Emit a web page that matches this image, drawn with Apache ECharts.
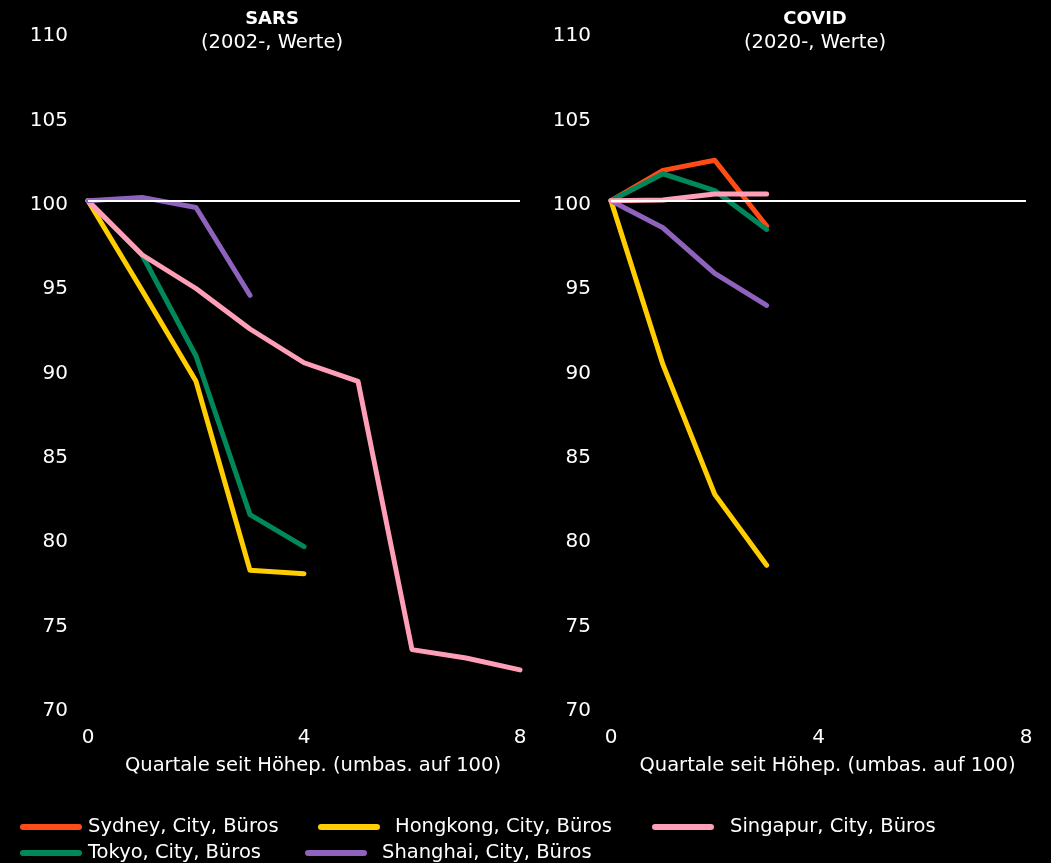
<!DOCTYPE html>
<html>
<head>
<meta charset="utf-8">
<script src="https://cdn.jsdelivr.net/npm/echarts@6/dist/echarts.min.js"></script>
<style>
  html, body { margin: 0; padding: 0; background: #000; }
  #chart { width: 1051px; height: 863px; }
</style>
</head>
<body>
<div id="chart"></div>
<script>
// Quarters since peak (x) and rebased office values (peak = 100)
const quarters = [0, 1, 2, 3, 4, 5, 6, 7, 8];

// SARS episode (2002-)
const sarsTokyo     = [100, 96.8, 90.8, 81.4, 79.5];
const sarsHongkong  = [100, 94.7, 89.3, 78.1, 77.9];
const sarsSingapur  = [100, 96.8, 94.8, 92.4, 90.4, 89.3, 73.4, 72.9, 72.2];
const sarsShanghai  = [100, 100.2, 99.6, 94.4];

// COVID episode (2020-)
const covidSydney   = [100, 101.8, 102.4, 98.5];
const covidTokyo    = [100, 101.6, 100.6, 98.3];
const covidHongkong = [100, 90.3, 82.6, 78.4];
const covidSingapur = [100, 100.05, 100.4, 100.4];
const covidShanghai = [100, 98.4, 95.7, 93.8];

const baseline = 100;
const yTicks = { min: 70, max: 110, step: 5 };
const xTicks = { min: 0, max: 8, step: 4 };

const NAMES = {
  sydney: 'Sydney, City, Büros',
  hongkong: 'Hongkong, City, Büros',
  singapur: 'Singapur, City, Büros',
  tokyo: 'Tokyo, City, Büros',
  shanghai: 'Shanghai, City, Büros'
};
const COLORS = {
  sydney: '#ff4c17',
  hongkong: '#ffcd00',
  singapur: '#ff9eb7',
  tokyo: '#00875a',
  shanghai: '#8e62bd'
};

const FONT = '"DejaVu Sans", "Noto Sans", sans-serif';
const TEXT_SIZE = 19.5;

function pairs(values) {
  return values.map((v, i) => [quarters[i], v]);
}

function lineSeries(key, values, gridIdx, withBaseline) {
  const s = {
    type: 'line',
    name: NAMES[key],
    xAxisIndex: gridIdx,
    yAxisIndex: gridIdx,
    data: pairs(values),
    showSymbol: false,
    symbol: 'none',
    silent: true,
    lineStyle: { color: COLORS[key], width: 5, cap: 'round', join: 'round' },
    itemStyle: { color: COLORS[key] }
  };
  if (withBaseline) {
    s.markLine = {
      silent: true,
      symbol: 'none',
      label: { show: false },
      lineStyle: { color: '#ffffff', width: 2, type: 'solid' },
      data: [{ yAxis: baseline }]
    };
  }
  return s;
}

function xAxis(gridIdx) {
  return {
    type: 'value',
    gridIndex: gridIdx,
    min: xTicks.min, max: xTicks.max, interval: xTicks.step,
    axisLine: { show: false },
    axisTick: { show: false },
    splitLine: { show: false },
    axisLabel: { color: '#ffffff', fontSize: 20, fontFamily: FONT, margin: 21 },
    name: 'Quartale seit Höhep. (umbas. auf 100)',
    nameLocation: 'middle',
    nameGap: 49,
    nameTextStyle: { color: '#ffffff', fontSize: TEXT_SIZE, fontFamily: FONT, padding: [0, 0, 0, 18] }
  };
}

function yAxis(gridIdx) {
  return {
    type: 'value',
    gridIndex: gridIdx,
    min: yTicks.min, max: yTicks.max, interval: yTicks.step,
    axisLine: { show: false },
    axisTick: { show: false },
    splitLine: { show: false },
    axisLabel: { color: '#ffffff', fontSize: 20, fontFamily: FONT, margin: 20, lineHeight: 26, verticalAlign: 'top', padding: [-9, 0, 0, 0] }
  };
}

const swatch = 'path://M3,0 H59 A3,3 0 0 1 59,6 H3 A3,3 0 0 1 3,0 Z';
function legendItem(key, left, top, textGap) {
  return {
    data: [NAMES[key]],
    left: left,
    top: top,
    orient: 'horizontal',
    icon: swatch,
    itemWidth: 62,
    itemHeight: 6,
    selectedMode: false,
    padding: 0,
    textStyle: { color: '#ffffff', fontSize: TEXT_SIZE, fontFamily: FONT, padding: [0, 0, 0, textGap] }
  };
}

const option = {
  backgroundColor: '#000000',
  animation: false,
  title: [
    {
      text: 'SARS', subtext: '(2002-, Werte)',
      left: 267, top: 5, textAlign: 'center', itemGap: 5,
      textStyle: { color: '#ffffff', fontSize: 18, fontWeight: 'bold', fontFamily: FONT },
      subtextStyle: { color: '#ffffff', fontSize: TEXT_SIZE, fontFamily: FONT }
    },
    {
      text: 'COVID', subtext: '(2020-, Werte)',
      left: 810, top: 5, textAlign: 'center', itemGap: 5,
      textStyle: { color: '#ffffff', fontSize: 18, fontWeight: 'bold', fontFamily: FONT },
      subtextStyle: { color: '#ffffff', fontSize: TEXT_SIZE, fontFamily: FONT }
    }
  ],
  grid: [
    { left: 88, top: 32, width: 432, height: 675, containLabel: false },
    { left: 611, top: 32, width: 415, height: 675, containLabel: false }
  ],
  xAxis: [xAxis(0), xAxis(1)],
  yAxis: [yAxis(0), yAxis(1)],
  legend: [
    legendItem('sydney', 20, 817, 1),
    legendItem('hongkong', 318, 817, 10),
    legendItem('singapur', 652, 817, 11),
    legendItem('tokyo', 20, 843, 1),
    legendItem('shanghai', 305, 843, 10)
  ],
  series: [
    lineSeries('tokyo', sarsTokyo, 0, true),
    lineSeries('hongkong', sarsHongkong, 0, false),
    lineSeries('singapur', sarsSingapur, 0, false),
    lineSeries('shanghai', sarsShanghai, 0, false),

    lineSeries('sydney', covidSydney, 1, true),
    lineSeries('tokyo', covidTokyo, 1, false),
    lineSeries('hongkong', covidHongkong, 1, false),
    lineSeries('shanghai', covidShanghai, 1, false),
    lineSeries('singapur', covidSingapur, 1, false)
  ]
};

const chart = echarts.init(document.getElementById('chart'), null, { renderer: 'canvas' });
chart.setOption(option);
</script>
</body>
</html>
